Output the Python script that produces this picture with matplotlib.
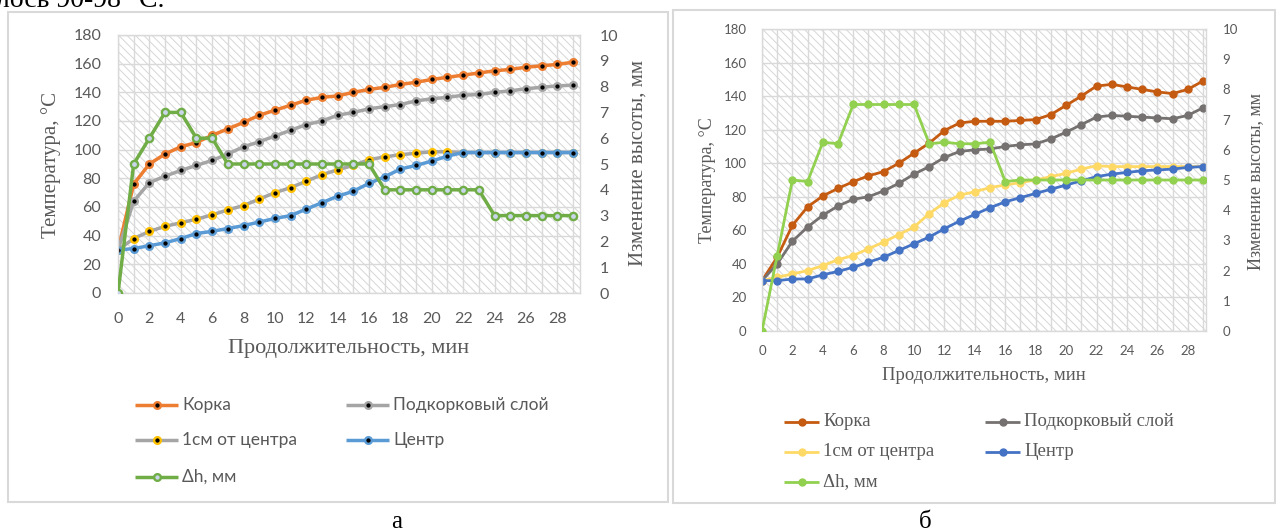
import matplotlib
matplotlib.use("Agg")
import matplotlib.pyplot as plt
from matplotlib.patches import Rectangle
from matplotlib.lines import Line2D

W, H = 1276, 532

# время, мин
minutes = list(range(30))

# рисунок а
korka_a = [30, 76, 90, 97, 102, 105, 110, 114.5, 119, 124, 127.5, 131, 134.5, 136.5, 137.5,
           140, 142, 143.5, 145.5, 147, 149, 150.5, 152, 153.5, 155, 156, 157.5, 158.5, 159.5, 161]
podk_a = [30, 64, 77, 81.5, 85.5, 89, 92.5, 97, 102, 105.5, 109.5, 113.5, 117.5, 120, 124,
          126, 128.5, 130, 131.5, 134, 135.5, 136.5, 138, 138.5, 140, 141, 142.5, 143.5, 144.5, 145]
cm1_a = [30, 38, 43, 46.5, 49, 51.5, 54.5, 58, 61, 65.5, 70, 73.5, 78, 82.5, 86,
         89, 93, 95, 96.5, 97.5, 98.5, 98.5, 98, 98, 98, 98, 98, 98, 98, 98]
center_a = [30, 31, 33, 35, 38, 41.5, 43, 45, 47, 49.5, 52, 54, 58.5, 63, 67.5,
            71, 76.5, 81, 86.5, 89, 92, 95.5, 98, 98, 98, 98, 98, 98, 98, 98]
dh_a = [0, 5, 6, 7, 7, 6, 6, 5, 5, 5, 5, 5, 5, 5, 5,
        5, 5, 4, 4, 4, 4, 4, 4, 4, 3, 3, 3, 3, 3, 3]

# рисунок б
korka_b = [30, 44, 63, 74, 80.5, 85, 89, 92.5, 95, 100, 106, 112, 119.5, 124, 125,
           125, 125, 125.5, 126, 129, 134.5, 140, 146, 147, 145.5, 144, 142.5, 141.5, 144, 149]
podk_b = [30, 40, 53.5, 62, 69, 74.5, 78.5, 80, 83.5, 88, 93.5, 98, 103.5, 107, 108,
          108.5, 110, 111, 111.5, 114.5, 118.5, 123, 127.5, 128.5, 128, 127.5, 127, 126.5, 128.5, 133]
cm1_b = [30, 32, 34, 36, 39, 42.5, 45, 49, 53, 57.5, 62, 70, 76.5, 81, 83,
         85.5, 87, 88.5, 90, 92, 94, 96.5, 98.5, 98, 98, 98, 98, 98, 98, 98]
center_b = [30, 30, 31, 31, 33.5, 35.5, 38, 41, 44, 48, 52, 56, 61, 65.5, 69.5,
            73.5, 77, 79.5, 82, 84.5, 87, 89.5, 92, 93.5, 94.5, 95.5, 96, 96.5, 97.5, 98]
dh_b = [0, 2.5, 5, 4.95, 6.25, 6.2, 7.5, 7.5, 7.5, 7.5, 7.5, 6.2, 6.25, 6.2, 6.2,
        6.25, 4.95, 5, 5, 5, 5, 5, 5, 5, 5, 5, 5, 5, 5, 5]

labels = ["Корка", "Подкорковый слой", "1см от центра", "Центр", "\u0394h, мм"]
temp_ticks = list(range(0, 181, 20))
dh_ticks = list(range(0, 11))
x_ticks = list(range(0, 29, 2))

SANS = ["Lato", "DejaVu Sans"]
SERIF = ["Liberation Serif", "DejaVu Serif"]
GRAY_TXT = "#595959"
GRID = "#D9D9D9"

plt.rcParams["hatch.linewidth"] = 0.7


def fx(px):
    return px / W


def fy(py):
    return 1 - py / H


def make_axes(fig, l, t, r, b, xmax, tsize, ypad_l, ypad_r, xpad):
    ax = fig.add_axes([fx(l), fy(b), (r - l) / W, (b - t) / H])
    ax.set_facecolor("white")
    ax.add_patch(Rectangle((0, 0), 1, 1, transform=ax.transAxes, facecolor="white",
                           edgecolor="#D6D6D6", hatch="\\\\\\\\", lw=0, zorder=0))
    ax.set_xlim(0, xmax)
    ax.set_ylim(0, 180)
    ax.set_yticks(temp_ticks)
    ax.set_xticks(x_ticks)
    ax.set_xticks(minutes, minor=True)
    ax.set_axisbelow(True)
    ax.grid(axis="y", color=GRID, lw=1.0)
    ax.grid(axis="x", which="both", color=GRID, lw=1.0)
    for s in ax.spines.values():
        s.set_color(GRID)
        s.set_linewidth(1.0)
    ax.tick_params(which="both", length=0)
    ax.tick_params(axis="y", pad=ypad_l, labelsize=tsize, labelcolor=GRAY_TXT)
    ax.tick_params(axis="x", pad=xpad, labelsize=tsize, labelcolor=GRAY_TXT)
    for lab in ax.get_xticklabels() + ax.get_yticklabels():
        lab.set_family(SANS)

    ax2 = ax.twinx()
    ax2.set_ylim(0, 10)
    ax2.set_yticks(dh_ticks)
    for s in ax2.spines.values():
        s.set_visible(False)
    ax2.tick_params(length=0, pad=ypad_r, labelsize=tsize, labelcolor=GRAY_TXT)
    for lab in ax2.get_yticklabels():
        lab.set_family(SANS)
    return ax, ax2


def legend_entry(fig, x0, x1, y, text, color, mfc, mec, ms, mew, lw, font, fsize):
    xm = (x0 + x1) / 2
    fig.add_artist(Line2D([fx(x0), fx(x1)], [fy(y), fy(y)], transform=fig.transFigure,
                          color=color, lw=lw, solid_capstyle="butt"))
    fig.add_artist(Line2D([fx(xm)], [fy(y)], transform=fig.transFigure, ls="none",
                          marker="o", ms=ms, mfc=mfc, mec=mec, mew=mew))
    fig.text(fx(x1 + 4), fy(y), text, ha="left", va="center", fontsize=fsize,
             color=GRAY_TXT, family=font)


fig = plt.figure(figsize=(W / 100, H / 100), dpi=100)

# рамки диаграмм
fig.add_artist(Rectangle((fx(8), fy(502)), (668 - 8) / W, (502 - 12) / H, transform=fig.transFigure,
                         fill=False, edgecolor=GRID, lw=1.5))
fig.add_artist(Rectangle((fx(673), fy(503)), (1275 - 673) / W, (503 - 10) / H, transform=fig.transFigure,
                         fill=False, edgecolor=GRID, lw=1.5))

# ---------- а ----------
axA, axA2 = make_axes(fig, 118, 35, 580, 293, 29.45, 11.5, 12, 14, 14)
sty_a = [
    (korka_a, "#ED7D31", "#ED7D31"),
    (podk_a, "#A5A5A5", "#A5A5A5"),
    (cm1_a, "#A5A5A5", "#FFC000"),
    (center_a, "#5B9BD5", "#5B9BD5"),
]
for vals, lc, mc in sty_a:
    axA.plot(minutes, vals, color=lc, lw=2.5, marker="o", ms=4.8, mfc="black", mec=mc, mew=1.7)
axA2.plot(minutes, dh_a, color="#70AD47", lw=2.5, marker="o", ms=5.2, mfc="#C9D5E8", mec="#70AD47", mew=1.7)

fig.text(fx(51), fy(165), "Температура, \u00b0С", rotation=90, ha="center", va="center",
         fontsize=15, color=GRAY_TXT, family=SERIF)
fig.text(fx(638), fy(163), "Изменение высоты, мм", rotation=90, ha="center", va="center",
         fontsize=15, color=GRAY_TXT, family=SERIF)
fig.text(fx(349), fy(348), "Продолжительность, мин", ha="center", va="center",
         fontsize=16, color=GRAY_TXT, family=SERIF)

leg_a = [
    (135, 405, labels[0], "#ED7D31", "black", "#ED7D31"),
    (346, 405, labels[1], "#A5A5A5", "black", "#A5A5A5"),
    (135, 440, labels[2], "#A5A5A5", "black", "#FFC000"),
    (346, 440, labels[3], "#5B9BD5", "black", "#5B9BD5"),
    (135, 477, labels[4], "#70AD47", "#C9D5E8", "#70AD47"),
]
for x0, y, txt, lc, mfc, mec in leg_a:
    legend_entry(fig, x0, x0 + 43, y, txt, lc, mfc, mec, 4.8, 1.7, 2.5, SANS, 12.5)

# ---------- б ----------
axB, axB2 = make_axes(fig, 762, 29, 1206, 331, 29.2, 9.5, 11, 12, 10)
sty_b = [
    (korka_b, "#C55A11"),
    (podk_b, "#767171"),
    (cm1_b, "#FFD966"),
    (center_b, "#4472C4"),
]
for vals, c in sty_b:
    axB.plot(minutes, vals, color=c, lw=2.0, marker="o", ms=5, mfc=c, mec=c)
axB2.plot(minutes, dh_b, color="#92D050", lw=2.0, marker="o", ms=5, mfc="#92D050", mec="#92D050")

fig.text(fx(707), fy(180), "Температура, \u00b0С", rotation=90, ha="center", va="center",
         fontsize=13, color=GRAY_TXT, family=SERIF)
fig.text(fx(1256), fy(181), "Изменение высоты, мм", rotation=90, ha="center", va="center",
         fontsize=13, color=GRAY_TXT, family=SERIF)
fig.text(fx(984), fy(376), "Продолжительность, мин", ha="center", va="center",
         fontsize=13.5, color=GRAY_TXT, family=SERIF)

leg_b = [
    (784, 422, labels[0], "#C55A11"),
    (985, 422, labels[1], "#767171"),
    (784, 452, labels[2], "#FFD966"),
    (985, 452, labels[3], "#4472C4"),
    (784, 482, labels[4], "#92D050"),
]
for x0, y, txt, c in leg_b:
    legend_entry(fig, x0, x0 + 35, y, txt, c, c, c, 5, 1.0, 2.0, SERIF, 13.5)

# подписи рисунков и обрезанная строка текста сверху
fig.text(fx(-4), fy(7), "лось 90-98 \u00b0С.", ha="left", va="baseline", fontsize=20,
         color="black", family=SERIF)
fig.text(fx(397), fy(522), "а", ha="center", va="center", fontsize=18, color="black", family=SERIF)
fig.text(fx(925), fy(522), "б", ha="center", va="center", fontsize=18, color="black", family=SERIF)

fig.savefig("out.png", dpi=100)
